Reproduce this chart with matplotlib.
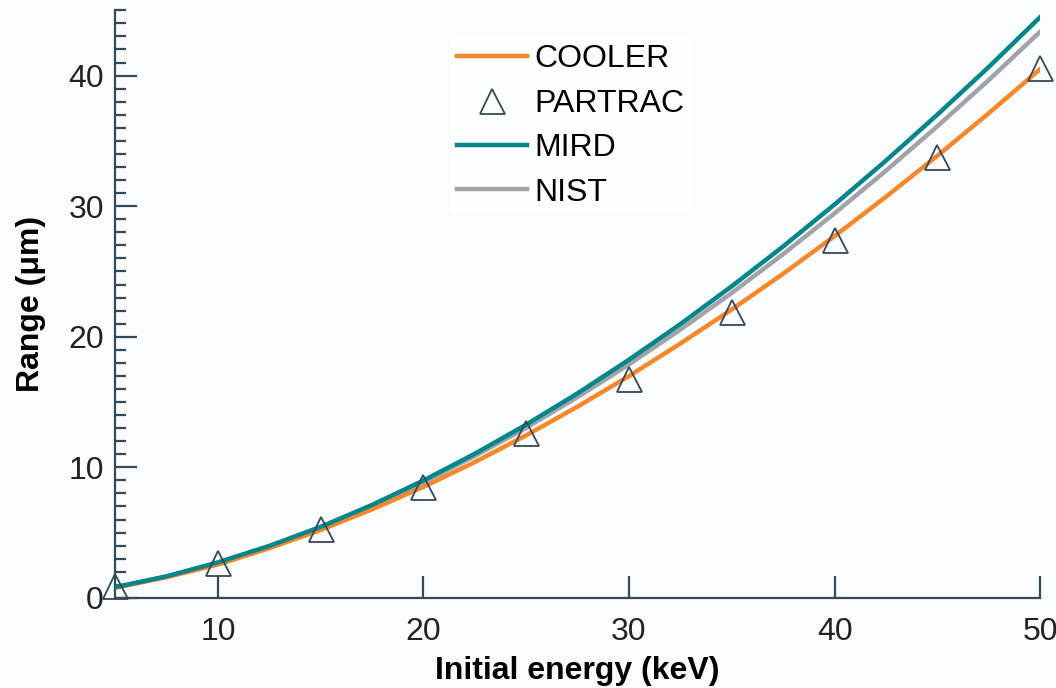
import matplotlib
matplotlib.use("Agg")
import matplotlib.pyplot as plt
from matplotlib.ticker import MultipleLocator

plt.rcParams['font.family'] = ['Liberation Sans', 'DejaVu Sans']

# energies for the curves (keV)
energy = [5, 7.5, 10, 12.5, 15, 17.5, 20, 22.5, 25, 27.5, 30,
          32.5, 35, 37.5, 40, 42.5, 45, 47.5, 50]
cooler = [0.78, 1.58, 2.55, 3.80, 5.20, 6.78, 8.50, 10.40, 12.45, 14.65, 16.99,
          19.48, 22.09, 24.83, 27.71, 30.72, 33.86, 37.12, 40.5]
mird = [0.82, 1.65, 2.72, 3.98, 5.44, 7.12, 8.99, 11.04, 13.27, 15.67, 18.24,
        20.97, 23.87, 26.92, 30.13, 33.49, 37.01, 40.66, 44.48]
nist = [0.80, 1.62, 2.66, 3.92, 5.38, 7.02, 8.85, 10.86, 13.03, 15.38, 17.88,
        20.55, 23.36, 26.33, 29.45, 32.72, 36.12, 39.66, 43.36]

# PARTRAC points
partrac_e = [5, 10, 15, 20, 25, 30, 35, 40, 45, 50]
partrac_r = [0.9, 2.7, 5.3, 8.5, 12.6, 16.8, 21.9, 27.4, 33.8, 40.6]

spine_col = "#34495a"

fig = plt.figure(figsize=(10.56, 6.88), dpi=100)
fig.patch.set_facecolor("#fafcfe")
ax = fig.add_axes([0.109, 0.131, 0.876, 0.854])
ax.set_facecolor("#fafcfe")

ax.plot(energy, cooler, color="#f5882a", lw=3.2, label="COOLER", zorder=3)
ax.plot(energy, nist, color="#a0a4a8", lw=3.2, label="NIST", zorder=2)
ax.plot(energy, mird, color="#00868a", lw=3.2, label="MIRD", zorder=4)
ax.plot(partrac_e, partrac_r, linestyle="none", marker="^", markersize=18,
        markerfacecolor="none", markeredgecolor=spine_col, markeredgewidth=1.3,
        label="PARTRAC", zorder=5, clip_on=False)

ax.set_xlim(5, 50)
ax.set_ylim(0, 45)
ax.xaxis.set_major_locator(MultipleLocator(10))
ax.yaxis.set_major_locator(MultipleLocator(10))
ax.yaxis.set_minor_locator(MultipleLocator(1))

for s in ["top", "right"]:
    ax.spines[s].set_visible(False)
for s in ["left", "bottom"]:
    ax.spines[s].set_color(spine_col)
    ax.spines[s].set_linewidth(1.6)

ax.tick_params(axis="both", which="major", direction="in", length=16, width=1.6,
               color=spine_col, labelsize=23, labelcolor="#222222")
ax.tick_params(axis="x", which="major", pad=14)
ax.tick_params(axis="y", which="major", pad=8)
ax.tick_params(axis="y", which="minor", direction="in", length=8, width=1.6,
               color=spine_col)

ax.set_xlabel("Initial energy (keV)", fontsize=23, fontweight="bold", labelpad=6)
ax.set_ylabel("Range (\u03bcm)", fontsize=23, fontweight="bold", labelpad=16)

handles, labels = ax.get_legend_handles_labels()
order = ["COOLER", "PARTRAC", "MIRD", "NIST"]
h = [handles[labels.index(o)] for o in order]
leg = ax.legend(h, order, loc="upper left", bbox_to_anchor=(0.345, 0.98),
                frameon=True, fontsize=23, handlelength=2.2, handletextpad=0.25,
                labelspacing=0.45, borderpad=0.2)
leg.get_frame().set_facecolor("white")
leg.get_frame().set_edgecolor("none")

fig.savefig("out.png", dpi=100, facecolor=fig.get_facecolor())
